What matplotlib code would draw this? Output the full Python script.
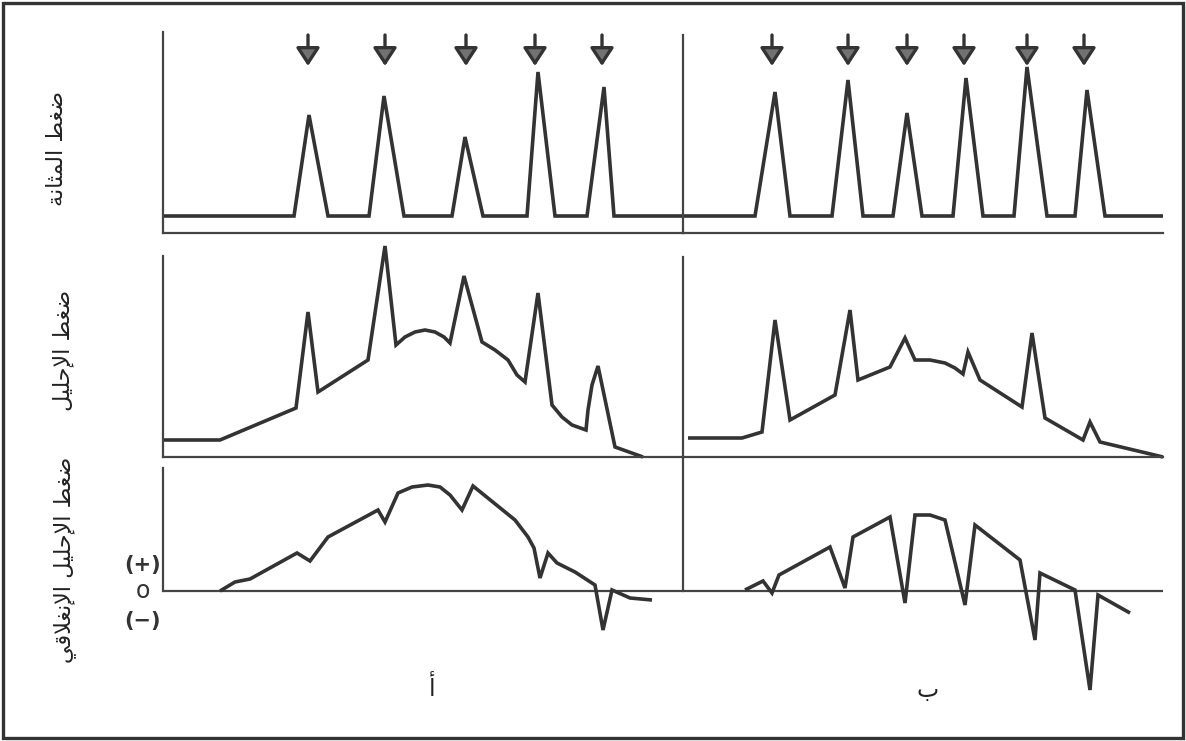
import matplotlib
matplotlib.use("Agg")
import matplotlib.pyplot as plt
from matplotlib.patches import Rectangle

# ---------------- Arabic shaping helper (presentation forms) ----------------
FORMS = {  # isolated, final, initial, medial
    'ا': ('\uFE8D', '\uFE8E', None, None),
    'أ': ('\uFE83', '\uFE84', None, None),
    'إ': ('\uFE87', '\uFE88', None, None),
    'ب': ('\uFE8F', '\uFE90', '\uFE91', '\uFE92'),
    'ة': ('\uFE93', '\uFE94', None, None),
    'ث': ('\uFE99', '\uFE9A', '\uFE9B', '\uFE9C'),
    'ح': ('\uFEA1', '\uFEA2', '\uFEA3', '\uFEA4'),
    'ض': ('\uFEBD', '\uFEBE', '\uFEBF', '\uFEC0'),
    'ط': ('\uFEC1', '\uFEC2', '\uFEC3', '\uFEC4'),
    'غ': ('\uFECD', '\uFECE', '\uFECF', '\uFED0'),
    'ق': ('\uFED5', '\uFED6', '\uFED7', '\uFED8'),
    'ل': ('\uFEDD', '\uFEDE', '\uFEDF', '\uFEE0'),
    'م': ('\uFEE1', '\uFEE2', '\uFEE3', '\uFEE4'),
    'ن': ('\uFEE5', '\uFEE6', '\uFEE7', '\uFEE8'),
    'ي': ('\uFEF1', '\uFEF2', '\uFEF3', '\uFEF4'),
}
LAM_ALEF = {'ا': ('\uFEFB', '\uFEFC'), 'أ': ('\uFEF7', '\uFEF8'), 'إ': ('\uFEF9', '\uFEFA')}


def shape(text):
    tokens = []
    i = 0
    while i < len(text):
        c = text[i]
        if c == 'ل' and i + 1 < len(text) and text[i + 1] in LAM_ALEF:
            tokens.append(('LA', text[i + 1]))
            i += 2
        else:
            tokens.append(('C', c))
            i += 1

    def is_ar(t):
        return t[0] == 'LA' or t[1] in FORMS

    def dual(t):
        return t[0] == 'C' and t[1] in FORMS and FORMS[t[1]][2] is not None

    out = []
    for k, t in enumerate(tokens):
        if not is_ar(t):
            out.append(t[1])
            continue
        prev = k > 0 and dual(tokens[k - 1])
        nxt = dual(t) and k + 1 < len(tokens) and is_ar(tokens[k + 1])
        if t[0] == 'LA':
            out.append(LAM_ALEF[t[1]][1 if prev else 0])
            continue
        iso, fin, ini, med = FORMS[t[1]]
        if prev and nxt:
            out.append(med)
        elif prev:
            out.append(fin)
        elif nxt:
            out.append(ini)
        else:
            out.append(iso)
    return ''.join(out)[::-1]


# ---------------- data ----------------
row_labels = ["ضغط المثانة", "ضغط الإحليل", "ضغط الإحليل الإنغلاقي"]
panel_labels = ["أ", "ب"]
sign_labels = ["(+)", "o", "(−)"]

# Bladder pressure (top row)
bladder_a_t = [0, 131, 146, 165, 206, 221, 241, 289, 302, 320, 364, 375, 392, 424, 441, 451, 520]
bladder_a_p = [0, 0, 101, 0, 0, 120, 0, 0, 79, 0, 0, 144, 0, 0, 129, 0, 0]
bladder_b_t = [0, 72, 92, 107, 149, 165, 180, 210, 224, 239, 270, 283, 300, 331, 344, 364, 392, 404, 422, 480]
bladder_b_p = [0, 0, 124, 0, 0, 136, 0, 0, 103, 0, 0, 138, 0, 0, 149, 0, 0, 126, 0, 0]
arrows_a_t = [145, 222, 303, 372, 439]
arrows_b_t = [89, 165, 224, 281, 344, 401]

# Urethral pressure (middle row)
urethra_a_t = [0, 57, 133, 145, 155, 205, 222, 233, 242, 252, 262, 272, 281, 287, 301, 319, 332, 345,
               354, 362, 375, 389, 399, 409, 423, 425, 429, 435, 452, 480]
urethra_a_p = [17, 17, 49, 145, 65, 97, 211, 112, 120, 125, 127, 125, 120, 114, 181, 115, 107, 97,
               82, 75, 164, 52, 40, 32, 27, 47, 72, 91, 10, 0]
urethra_b_t = [5, 59, 79, 92, 107, 152, 167, 175, 207, 222, 232, 247, 262, 272, 280, 285, 297, 339,
               349, 362, 400, 407, 417, 480]
urethra_b_p = [19, 19, 25, 137, 37, 62, 147, 77, 90, 119, 97, 97, 94, 89, 83, 105, 77, 50,
               124, 39, 17, 35, 15, 0]

# Urethral closure pressure (bottom row)
closure_a_t = [57, 72, 87, 134, 147, 165, 215, 222, 235, 249, 265, 277, 287, 299, 310, 352, 365, 371,
               377, 385, 394, 412, 432, 440, 449, 467, 489]
closure_a_p = [0, 9, 12, 38, 30, 54, 81, 69, 98, 104, 106, 104, 96, 81, 105, 71, 54, 43,
               13, 38, 28, 19, 6, -39, 1, -7, -9]
closure_b_t = [62, 80, 89, 96, 147, 162, 170, 207, 222, 232, 247, 262, 282, 292, 337, 352, 357, 392,
               407, 415, 447]
closure_b_p = [1, 10, -2, 16, 44, 3, 54, 74, -12, 76, 76, 71, -14, 66, 31, -49, 18, 1,
               -99, -4, -22]

# ---------------- figure ----------------
W, H = 1186, 741
fig = plt.figure(figsize=(W / 100, H / 100), dpi=100)
fig.patch.set_facecolor("white")

LINE = "#333333"
AX = "#444444"
LW = 2.6


def add_axes(x0, y_top, x1, y_bot):
    return fig.add_axes([x0 / W, 1 - y_bot / H, (x1 - x0) / W, (y_bot - y_top) / H])


def style(ax, xmax, ylim, left_bounds=None, bottom=True):
    ax.set_xlim(0, xmax)
    ax.set_ylim(*ylim)
    ax.set_xticks([])
    ax.set_yticks([])
    ax.patch.set_alpha(0)
    for s in ("top", "right"):
        ax.spines[s].set_visible(False)
    ax.spines["left"].set_color(AX)
    ax.spines["left"].set_linewidth(1.6)
    ax.spines["bottom"].set_color(AX)
    ax.spines["bottom"].set_linewidth(1.6)
    if not bottom:
        ax.spines["bottom"].set_visible(False)
    if left_bounds is not None:
        ax.spines["left"].set_bounds(*left_bounds)


def trace(ax, t, p):
    ax.plot(t, p, color=LINE, lw=LW, solid_joinstyle="miter", solid_capstyle="butt", clip_on=False)


# top row
ax_ta = add_axes(163, 32, 683, 233)
ax_tb = add_axes(683, 35, 1163, 233)
style(ax_ta, 520, (-17, 184))
style(ax_tb, 480, (-17, 181))
trace(ax_ta, bladder_a_t, bladder_a_p)
trace(ax_tb, bladder_b_t, bladder_b_p)
for ax, arr in ((ax_ta, arrows_a_t), (ax_tb, arrows_b_t)):
    for t in arr:
        ax.annotate("", xy=(t, 150), xytext=(t, 181), annotation_clip=False,
                    arrowprops=dict(arrowstyle="-|>,head_length=0.55,head_width=0.36",
                                    mutation_scale=20, lw=2.4, fc="#727272", ec="#333333",
                                    shrinkA=0, shrinkB=0))

# middle row
ax_ma = add_axes(163, 256, 683, 457)
ax_mb = add_axes(683, 257, 1163, 457)
style(ax_ma, 520, (0, 201))
style(ax_mb, 480, (0, 200))
trace(ax_ma, urethra_a_t, urethra_a_p)
trace(ax_mb, urethra_b_t, urethra_b_p)

# bottom row
ax_ba = add_axes(163, 457, 683, 700)
ax_bb = add_axes(683, 457, 1163, 700)
style(ax_ba, 520, (-109, 134), left_bounds=(0, 123), bottom=False)
style(ax_bb, 480, (-109, 134), left_bounds=(0, 134), bottom=False)
for ax in (ax_ba, ax_bb):
    ax.axhline(0, color=AX, lw=1.6)
trace(ax_ba, closure_a_t, closure_a_p)
trace(ax_bb, closure_b_t, closure_b_p)

# row labels
ar_font = ["DejaVu Sans"]
fig.text(57 / W, 1 - 148 / H, shape(row_labels[0]), rotation=90, ha="center", va="center",
         fontsize=16, family=ar_font, color="#222222")
fig.text(63 / W, 1 - 350 / H, shape(row_labels[1]), rotation=90, ha="center", va="center",
         fontsize=16, family=ar_font, color="#222222")
fig.text(65 / W, 1 - 560 / H, shape(row_labels[2]), rotation=90, ha="center", va="center",
         fontsize=16, family=ar_font, color="#222222")

# sign labels
for lab, y, fs, fw in zip(sign_labels, (565, 591, 621), (15, 17, 15), ("bold", "normal", "bold")):
    fig.text(143 / W, 1 - y / H, lab, ha="center", va="center", fontsize=fs,
             fontweight=fw, color="#333333")

# panel labels
fig.text(432 / W, 1 - 688 / H, shape(panel_labels[0]), ha="center", va="center", fontsize=17,
         family=ar_font, color="#222222")
fig.text(928 / W, 1 - 690 / H, shape(panel_labels[1]), ha="center", va="center", fontsize=17,
         family=ar_font, color="#222222")

# outer frame
fig.add_artist(Rectangle((3 / W, 3 / H), 1 - 6 / W, 1 - 6 / H, transform=fig.transFigure,
                         fill=False, lw=2.4, ec="#333333"))

fig.savefig("out.png", dpi=100)
